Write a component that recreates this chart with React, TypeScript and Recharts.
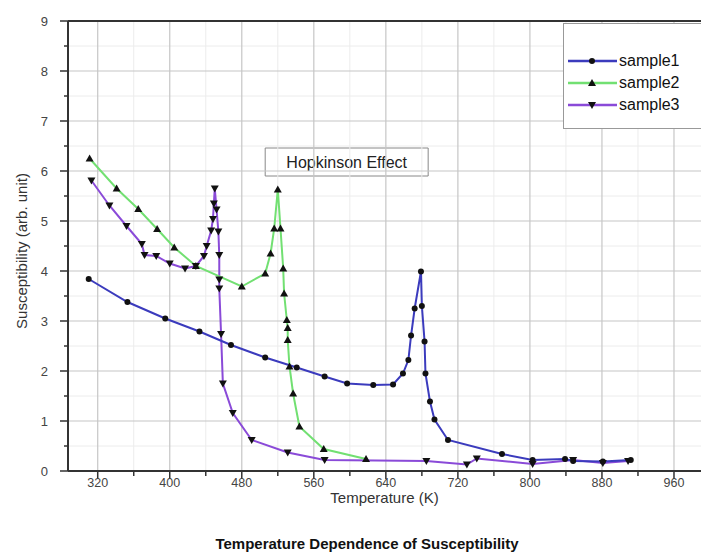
import React from 'react';
import { LineChart, Line, XAxis, YAxis, ReferenceLine, ReferenceArea, Legend, Label } from 'recharts';

const FONT = '"Liberation Sans", Arial, Helvetica, sans-serif';

// Axis ticks
const xTicks = [320, 360, 400, 440, 480, 520, 560, 600, 640, 680, 720, 760, 800, 840, 880, 920, 960];
const xMajorTicks = [320, 400, 480, 560, 640, 720, 800, 880, 960];
const xMinorTicks = [360, 440, 520, 600, 680, 760, 840, 920];
const yTicks = [0, 0.5, 1, 1.5, 2, 2.5, 3, 3.5, 4, 4.5, 5, 5.5, 6, 6.5, 7, 7.5, 8, 8.5, 9];
const yMajorTicks = [0, 1, 2, 3, 4, 5, 6, 7, 8, 9];
const yMinorTicks = [0.5, 1.5, 2.5, 3.5, 4.5, 5.5, 6.5, 7.5, 8.5];

// Series names
const seriesNames = ['sample1', 'sample2', 'sample3'];

// sample1 (circles)
const sample1T = [310, 353, 395, 433, 468, 506, 541, 572, 597, 626, 648, 659, 665, 668, 672, 679, 680, 683, 684, 689, 694, 709, 769, 803, 839, 848, 881, 912];
const sample1V = [3.84, 3.38, 3.05, 2.79, 2.52, 2.27, 2.07, 1.89, 1.75, 1.72, 1.73, 1.95, 2.22, 2.71, 3.25, 3.99, 3.3, 2.59, 1.95, 1.39, 1.03, 0.62, 0.34, 0.22, 0.24, 0.2, 0.19, 0.22];

// sample2 (up triangles)
const sample2T = [311, 341, 365, 386, 405, 429, 480, 506, 512, 516, 520, 523, 526, 527, 530, 531, 531, 533, 537, 544, 571, 618];
const sample2V = [6.25, 5.65, 5.24, 4.84, 4.47, 4.1, 3.69, 3.95, 4.35, 4.85, 5.63, 4.85, 4.05, 3.55, 3.02, 2.86, 2.62, 2.09, 1.55, 0.89, 0.44, 0.24];

// sample3 (down triangles)
const sample3T = [313, 333, 352, 369, 372, 385, 400, 417, 429, 438, 441, 446, 448, 449, 450, 452, 454, 455, 455, 455, 457, 459, 470, 491, 531, 572, 685, 730, 741, 803, 848, 881, 909];
const sample3V = [5.81, 5.31, 4.9, 4.54, 4.32, 4.3, 4.15, 4.05, 4.1, 4.3, 4.5, 4.81, 5.04, 5.35, 5.65, 5.23, 4.79, 4.32, 3.83, 3.65, 2.74, 1.75, 1.16, 0.62, 0.37, 0.22, 0.2, 0.13, 0.25, 0.14, 0.22, 0.16, 0.2];

const zip = (ts: number[], vs: number[]) => ts.map((T, i) => ({ T, v: vs[i] }));
const sample1 = zip(sample1T, sample1V);
const sample2 = zip(sample2T, sample2V);
const sample3 = zip(sample3T, sample3V);

const COLORS = ['#3b3bbd', '#72e072', '#8a4ad8'];
const MARKER = '#111';

const CircleDot = (p: any) => {
  if (p.cx == null || p.cy == null) return <g key={p.key} />;
  return <circle key={p.key} cx={p.cx} cy={p.cy} r={3} fill={MARKER} />;
};
const UpDot = (p: any) => {
  if (p.cx == null || p.cy == null) return <g key={p.key} />;
  const { cx, cy } = p;
  return <polygon key={p.key} points={`${cx},${cy - 4} ${cx - 4},${cy + 3} ${cx + 4},${cy + 3}`} fill={MARKER} />;
};
const DownDot = (p: any) => {
  if (p.cx == null || p.cy == null) return <g key={p.key} />;
  const { cx, cy } = p;
  return <polygon key={p.key} points={`${cx},${cy + 4} ${cx - 4},${cy - 3} ${cx + 4},${cy - 3}`} fill={MARKER} />;
};

const XTick = (props: any) => {
  const { x, y, payload } = props;
  const major = xMajorTicks.includes(payload.value);
  return (
    <g>
      <line x1={x} x2={x} y1={y} y2={y + (major ? 8 : 5)} stroke="#333" strokeWidth={1.5} />
      {major && (
        <text x={x} y={y + 16} textAnchor="middle" fontSize={12.5} fill="#444" fontFamily={FONT}>
          {payload.value}
        </text>
      )}
    </g>
  );
};

const YTick = (props: any) => {
  const { x, y, payload } = props;
  const major = Number.isInteger(payload.value);
  return (
    <g>
      <line x1={x} x2={x - (major ? 8 : 4)} y1={y} y2={y} stroke="#333" strokeWidth={1.5} />
      {major && (
        <text x={x - 20} y={y + 4.5} textAnchor="end" fontSize={13} fill="#444" fontFamily={FONT}>
          {payload.value}
        </text>
      )}
    </g>
  );
};

const LegendBox = () => {
  const rows = [0, 1, 2];
  return (
    <svg width={140} height={106} style={{ display: 'block' }}>
      <rect x={0.5} y={0.5} width={150} height={105} fill="#fff" stroke="#999" strokeWidth={1} />
      {rows.map((i) => {
        const cy = 38 + i * 22;
        return (
          <g key={i}>
            <line x1={5} x2={54} y1={cy} y2={cy} stroke={COLORS[i]} strokeWidth={2.5} />
            {i === 0 && <CircleDot cx={29} cy={cy} />}
            {i === 1 && <UpDot cx={29} cy={cy} />}
            {i === 2 && <DownDot cx={29} cy={cy} />}
            <text x={56} y={cy + 5} fontSize={16} fill="#111" fontFamily={FONT}>
              {seriesNames[i]}
            </text>
          </g>
        );
      })}
    </svg>
  );
};

export default function App() {
  return (
    <div style={{ position: 'absolute', left: 0, top: 0, width: 701, height: 560, background: '#fff', overflow: 'hidden' }}>
      <LineChart width={701} height={560} margin={{ top: 21, right: 0, bottom: 0, left: 0 }}>
        <XAxis
          type="number"
          dataKey="T"
          domain={[287, 990]}
          ticks={xTicks}
          interval={0}
          allowDataOverflow
          height={89}
          tickSize={0}
          tickMargin={0}
          tickLine={false}
          tick={<XTick />}
          axisLine={{ stroke: '#333', strokeWidth: 2 }}
          label={{
            content: (p: any) => {
              const vb = p.viewBox;
              return (
                <text x={vb.x + vb.width / 2} y={vb.y + 32} textAnchor="middle" fontSize={15} fill="#333" fontFamily={FONT}>
                  Temperature (K)
                </text>
              );
            },
          }}
        />
        <YAxis
          type="number"
          domain={[0, 9]}
          ticks={yTicks}
          interval={0}
          width={68}
          tickSize={0}
          tickMargin={0}
          tickLine={false}
          tick={<YTick />}
          axisLine={{ stroke: '#333', strokeWidth: 2 }}
          label={{
            content: (p: any) => {
              const vb = p.viewBox;
              const cx = 22;
              const cy = vb.y + vb.height / 2 + 5;
              return (
                <text x={cx} y={cy} transform={`rotate(-90 ${cx} ${cy})`} textAnchor="middle" dy={5} fontSize={15} fill="#333" fontFamily={FONT}>
                  Susceptibility (arb. unit)
                </text>
              );
            },
          }}
        />
        {xMinorTicks.map((t) => (
          <ReferenceLine key={`xm${t}`} x={t} stroke="#ececec" strokeWidth={1} />
        ))}
        {yMinorTicks.map((t) => (
          <ReferenceLine key={`ym${t}`} y={t} stroke="#ececec" strokeWidth={1} />
        ))}
        {xMajorTicks.map((t) => (
          <ReferenceLine key={`xM${t}`} x={t} stroke="#c6c6c6" strokeWidth={1.2} />
        ))}
        {yMajorTicks.filter((t) => t > 0 && t < 9).map((t) => (
          <ReferenceLine key={`yM${t}`} y={t} stroke="#c6c6c6" strokeWidth={1.2} />
        ))}
        <ReferenceLine y={9} stroke="#333" strokeWidth={2} />
        <ReferenceArea x1={506} x2={687} y1={5.9} y2={6.46} fill="#fff" fillOpacity={1} stroke="#888" strokeWidth={1}>
          <Label
            position="center"
            content={(p: any) => {
              const vb = p.viewBox;
              return (
                <text x={vb.x + vb.width / 2} y={vb.y + vb.height / 2 + 5.5} textAnchor="middle" fontSize={16} fill="#222" fontFamily={FONT}>
                  Hopkinson Effect
                </text>
              );
            }}
          />
        </ReferenceArea>
        <Line data={sample3} dataKey="v" name={seriesNames[2]} type="linear" stroke={COLORS[2]} strokeWidth={2} dot={DownDot} activeDot={false} isAnimationActive={false} />
        <Line data={sample2} dataKey="v" name={seriesNames[1]} type="linear" stroke={COLORS[1]} strokeWidth={2} dot={UpDot} activeDot={false} isAnimationActive={false} />
        <Line data={sample1} dataKey="v" name={seriesNames[0]} type="linear" stroke={COLORS[0]} strokeWidth={2} dot={CircleDot} activeDot={false} isAnimationActive={false} />
        <Legend
          layout="vertical"
          align="center"
          verticalAlign="middle"
          content={() => <LegendBox />}
          wrapperStyle={{ position: 'absolute', left: 563, top: 23, width: 140, height: 106 }}
        />
      </LineChart>
      <div
        style={{
          position: 'absolute',
          left: 0,
          width: 734,
          top: 535,
          textAlign: 'center',
          fontFamily: FONT,
          fontWeight: 'bold',
          fontSize: 15,
          color: '#111',
          lineHeight: '18px',
        }}
      >
        Temperature Dependence of Susceptibility
      </div>
    </div>
  );
}
